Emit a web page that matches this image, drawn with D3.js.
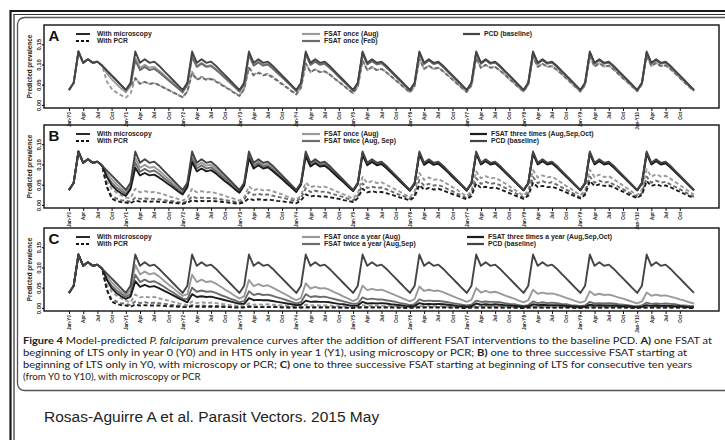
<!DOCTYPE html>
<html>
<head>
<meta charset="utf-8">
<script src="https://cdn.jsdelivr.net/npm/d3@7"></script>
<style>
  body { margin: 0; background: #fff; }
  svg { display: block; font-family: "Liberation Sans", Arial, sans-serif; }
</style>
</head>
<body>
<svg id="fig" width="725" height="440"></svg>
<script>
/**
 * Monthly predicted prevalence, Jan Y0 .. Jan Y11 (133 values per series).
 * One row per year, last value is the closing point.
 */
var pcd = [
  .037,.055,.132,.104,.113,.104,.107,.097,.085,.073,.061,.049,
  .037,.055,.132,.104,.113,.104,.107,.097,.085,.073,.061,.049,
  .037,.055,.132,.104,.113,.104,.107,.097,.085,.073,.061,.049,
  .037,.055,.132,.104,.113,.104,.107,.097,.085,.073,.061,.049,
  .037,.055,.132,.104,.113,.104,.107,.097,.085,.073,.061,.049,
  .037,.055,.132,.104,.113,.104,.107,.097,.085,.073,.061,.049,
  .037,.055,.132,.104,.113,.104,.107,.097,.085,.073,.061,.049,
  .037,.055,.132,.104,.113,.104,.107,.097,.085,.073,.061,.049,
  .037,.055,.132,.104,.113,.104,.107,.097,.085,.073,.061,.049,
  .037,.055,.132,.104,.113,.104,.107,.097,.085,.073,.061,.049,
  .037,.055,.132,.104,.113,.104,.107,.097,.085,.073,.061,.049,
  .037];

// Panel A
var aAugMic = [
  .037,.055,.132,.104,.113,.104,.107,.097,.078,.064,.052,.041,
  .031,.048,.116,.092,.099,.092,.094,.085,.075,.064,.054,.043,
  .033,.051,.121,.096,.104,.096,.098,.089,.078,.067,.056,.045,
  .034,.052,.125,.099,.107,.099,.102,.092,.081,.069,.058,.047,
  .035,.053,.127,.100,.108,.100,.103,.093,.082,.070,.059,.047,
  .036,.053,.128,.101,.110,.101,.104,.094,.082,.071,.059,.048,
  .036,.054,.129,.102,.111,.102,.105,.095,.083,.072,.060,.048,
  .036,.054,.129,.102,.111,.102,.105,.095,.083,.072,.060,.048,
  .036,.054,.129,.102,.111,.102,.105,.095,.083,.072,.060,.048,
  .036,.054,.129,.102,.111,.102,.105,.095,.083,.072,.060,.048,
  .036,.054,.129,.102,.111,.102,.105,.095,.083,.072,.060,.048,
  .036];
var aAugPcr = [
  .037,.055,.132,.104,.113,.104,.107,.097,.058,.040,.031,.024,
  .018,.028,.066,.052,.057,.052,.054,.049,.043,.037,.031,.025,
  .019,.034,.082,.064,.070,.064,.066,.060,.053,.045,.038,.030,
  .023,.040,.095,.075,.081,.075,.077,.070,.061,.053,.044,.035,
  .027,.043,.103,.081,.088,.081,.083,.076,.066,.057,.048,.038,
  .029,.046,.110,.086,.094,.086,.089,.081,.071,.061,.051,.041,
  .031,.047,.114,.089,.097,.089,.092,.083,.073,.063,.052,.042,
  .032,.048,.116,.092,.099,.092,.094,.085,.075,.064,.054,.043,
  .033,.050,.119,.094,.102,.094,.096,.087,.077,.066,.055,.044,
  .033,.050,.120,.095,.103,.095,.097,.088,.077,.066,.056,.045,
  .034,.051,.121,.096,.104,.096,.098,.089,.078,.067,.056,.045,
  .034];
var aFebMic = [
  .037,.055,.132,.104,.113,.104,.107,.097,.085,.073,.061,.049,
  .037,.050,.110,.086,.094,.086,.089,.081,.071,.061,.051,.041,
  .031,.050,.119,.094,.102,.094,.096,.087,.077,.066,.055,.044,
  .033,.051,.123,.097,.105,.097,.100,.090,.079,.068,.057,.046,
  .034,.052,.125,.099,.107,.099,.102,.092,.081,.069,.058,.047,
  .035,.053,.127,.100,.108,.100,.103,.093,.082,.070,.059,.047,
  .036,.053,.128,.101,.110,.101,.104,.094,.082,.071,.059,.048,
  .036,.054,.129,.102,.111,.102,.105,.095,.083,.072,.060,.048,
  .036,.054,.129,.102,.111,.102,.105,.095,.083,.072,.060,.048,
  .036,.054,.129,.102,.111,.102,.105,.095,.083,.072,.060,.048,
  .036,.054,.129,.102,.111,.102,.105,.095,.083,.072,.060,.048,
  .036];
var aFebPcr = [
  .037,.055,.132,.104,.113,.104,.107,.097,.085,.073,.061,.049,
  .037,.045,.066,.052,.057,.052,.054,.049,.043,.037,.031,.025,
  .019,.033,.079,.062,.068,.062,.064,.058,.051,.044,.037,.029,
  .022,.039,.092,.073,.079,.073,.075,.068,.060,.051,.043,.034,
  .026,.043,.103,.081,.088,.081,.083,.076,.066,.057,.048,.038,
  .029,.046,.110,.086,.094,.086,.089,.081,.071,.061,.051,.041,
  .031,.047,.114,.089,.097,.089,.092,.083,.073,.063,.052,.042,
  .032,.048,.116,.092,.099,.092,.094,.085,.075,.064,.054,.043,
  .033,.050,.119,.094,.102,.094,.096,.087,.077,.066,.055,.044,
  .033,.050,.120,.095,.103,.095,.097,.088,.077,.066,.056,.045,
  .034,.051,.121,.096,.104,.096,.098,.089,.078,.067,.056,.045,
  .034];

// Panel B
var bOnceMic = [
  .037,.055,.132,.104,.113,.104,.107,.097,.078,.064,.052,.041,
  .031,.048,.116,.092,.099,.092,.094,.085,.075,.064,.054,.043,
  .033,.051,.123,.097,.105,.097,.100,.090,.079,.068,.057,.046,
  .034,.052,.125,.099,.107,.099,.102,.092,.081,.069,.058,.047,
  .035,.053,.128,.101,.110,.101,.104,.094,.082,.071,.059,.048,
  .036,.054,.129,.102,.111,.102,.105,.095,.083,.072,.060,.048,
  .036,.054,.129,.102,.111,.102,.105,.095,.083,.072,.060,.048,
  .036,.054,.129,.102,.111,.102,.105,.095,.083,.072,.060,.048,
  .036,.054,.129,.102,.111,.102,.105,.095,.083,.072,.060,.048,
  .036,.054,.129,.102,.111,.102,.105,.095,.083,.072,.060,.048,
  .036,.054,.129,.102,.111,.102,.105,.095,.083,.072,.060,.048,
  .036];
var bTwiceMic = [
  .037,.055,.132,.104,.113,.104,.107,.097,.070,.055,.044,.035,
  .027,.043,.104,.082,.089,.082,.085,.077,.067,.058,.048,.039,
  .029,.048,.115,.090,.098,.090,.093,.084,.074,.064,.053,.043,
  .032,.050,.120,.095,.103,.095,.097,.088,.077,.066,.056,.045,
  .034,.052,.124,.098,.106,.098,.101,.091,.080,.069,.057,.046,
  .035,.053,.127,.100,.108,.100,.103,.093,.082,.070,.059,.047,
  .036,.053,.128,.101,.110,.101,.104,.094,.082,.071,.059,.048,
  .036,.053,.128,.101,.110,.101,.104,.094,.082,.071,.059,.048,
  .036,.053,.128,.101,.110,.101,.104,.094,.082,.071,.059,.048,
  .036,.053,.128,.101,.110,.101,.104,.094,.082,.071,.059,.048,
  .036,.053,.128,.101,.110,.101,.104,.094,.082,.071,.059,.048,
  .036];
var bThreeMic = [
  .037,.055,.132,.104,.113,.104,.107,.097,.070,.049,.037,.029,
  .022,.039,.092,.073,.079,.073,.075,.068,.060,.051,.043,.034,
  .026,.044,.106,.083,.090,.083,.086,.078,.068,.058,.049,.039,
  .030,.048,.115,.090,.098,.090,.093,.084,.074,.064,.053,.043,
  .032,.050,.120,.095,.103,.095,.097,.088,.077,.066,.056,.045,
  .034,.052,.124,.098,.106,.098,.101,.091,.080,.069,.057,.046,
  .035,.052,.125,.099,.107,.099,.102,.092,.081,.069,.058,.047,
  .035,.053,.127,.100,.108,.100,.103,.093,.082,.070,.059,.047,
  .036,.053,.127,.100,.108,.100,.103,.093,.082,.070,.059,.047,
  .036,.053,.127,.100,.108,.100,.103,.093,.082,.070,.059,.047,
  .036,.053,.127,.100,.108,.100,.103,.093,.082,.070,.059,.047,
  .036];
var bOncePcr = [
  .037,.055,.132,.104,.113,.104,.107,.097,.058,.040,.031,.024,
  .018,.017,.040,.031,.034,.031,.032,.029,.026,.022,.018,.015,
  .011,.017,.040,.031,.034,.031,.032,.029,.026,.022,.018,.015,
  .011,.019,.046,.036,.040,.036,.037,.034,.030,.026,.021,.017,
  .013,.023,.055,.044,.047,.044,.045,.041,.036,.031,.026,.021,
  .016,.029,.069,.054,.059,.054,.056,.050,.044,.038,.032,.025,
  .019,.033,.079,.062,.068,.062,.064,.058,.051,.044,.037,.029,
  .022,.035,.083,.066,.071,.066,.067,.061,.054,.046,.038,.031,
  .023,.036,.086,.068,.073,.068,.070,.063,.055,.047,.040,.032,
  .024,.036,.087,.069,.075,.069,.071,.064,.056,.048,.040,.032,
  .024,.037,.088,.070,.076,.070,.072,.065,.057,.049,.041,.033,
  .025];
var bTwicePcr = [
  .037,.055,.132,.104,.113,.104,.107,.097,.045,.022,.016,.012,
  .010,.008,.018,.015,.016,.015,.015,.014,.012,.010,.009,.007,
  .005,.009,.021,.017,.018,.017,.017,.016,.014,.012,.010,.008,
  .006,.013,.032,.025,.027,.025,.026,.023,.020,.018,.015,.012,
  .009,.017,.041,.032,.035,.032,.033,.030,.026,.023,.019,.015,
  .011,.022,.053,.042,.045,.042,.043,.039,.034,.029,.024,.020,
  .015,.025,.061,.048,.052,.048,.049,.045,.039,.034,.028,.023,
  .017,.028,.066,.052,.057,.052,.054,.049,.043,.037,.031,.025,
  .019,.029,.069,.054,.059,.054,.056,.050,.044,.038,.032,.025,
  .019,.029,.070,.055,.060,.055,.057,.051,.045,.039,.032,.026,
  .020,.029,.070,.055,.060,.055,.057,.051,.045,.039,.032,.026,
  .020];
var bThreePcr = [
  .037,.055,.132,.104,.113,.104,.107,.097,.045,.016,.010,.007,
  .006,.004,.011,.008,.009,.008,.009,.008,.007,.006,.005,.004,
  .003,.005,.012,.009,.010,.009,.010,.009,.008,.007,.005,.004,
  .003,.007,.016,.012,.014,.012,.013,.012,.010,.009,.007,.006,
  .004,.011,.026,.021,.023,.021,.021,.019,.017,.015,.012,.010,
  .007,.017,.040,.031,.034,.031,.032,.029,.026,.022,.018,.015,
  .011,.020,.049,.038,.042,.038,.040,.036,.031,.027,.023,.018,
  .014,.022,.053,.042,.045,.042,.043,.039,.034,.029,.024,.020,
  .015,.023,.055,.044,.047,.044,.045,.041,.036,.031,.026,.021,
  .016,.025,.059,.047,.051,.047,.048,.044,.038,.033,.027,.022,
  .017,.025,.059,.047,.051,.047,.048,.044,.038,.033,.027,.022,
  .017];

// Panel C
var cOnceMic = [
  .037,.055,.132,.104,.113,.104,.107,.097,.078,.064,.052,.041,
  .031,.044,.106,.083,.090,.083,.086,.078,.068,.058,.049,.039,
  .030,.034,.082,.064,.070,.064,.066,.060,.053,.045,.038,.030,
  .023,.029,.069,.054,.059,.054,.056,.050,.044,.038,.032,.025,
  .019,.025,.061,.048,.052,.048,.049,.045,.039,.034,.028,.023,
  .017,.023,.055,.044,.047,.044,.045,.041,.036,.031,.026,.021,
  .016,.022,.053,.042,.045,.042,.043,.039,.034,.029,.024,.020,
  .015,.020,.049,.038,.042,.038,.040,.036,.031,.027,.023,.018,
  .014,.019,.045,.035,.038,.035,.036,.033,.029,.025,.021,.017,
  .013,.017,.041,.032,.035,.032,.033,.030,.026,.023,.019,.015,
  .011,.016,.038,.030,.033,.030,.031,.028,.025,.021,.018,.014,
  .011];
var cTwiceMic = [
  .037,.055,.132,.104,.113,.104,.107,.097,.070,.055,.044,.035,
  .027,.034,.082,.064,.070,.064,.066,.060,.053,.045,.038,.030,
  .023,.021,.050,.040,.043,.040,.041,.037,.032,.028,.023,.019,
  .014,.017,.041,.032,.035,.032,.033,.030,.026,.023,.019,.015,
  .011,.014,.034,.027,.029,.027,.028,.025,.022,.019,.016,.013,
  .010,.011,.026,.021,.023,.021,.021,.019,.017,.015,.012,.010,
  .007,.009,.021,.017,.018,.017,.017,.016,.014,.012,.010,.008,
  .006,.008,.018,.015,.016,.015,.015,.014,.012,.010,.009,.007,
  .005,.007,.016,.012,.014,.012,.013,.012,.010,.009,.007,.006,
  .004,.006,.015,.011,.012,.011,.012,.011,.009,.008,.007,.005,
  .004,.006,.013,.010,.011,.010,.011,.010,.009,.007,.006,.005,
  .004];
var cThreeMic = [
  .037,.055,.132,.104,.113,.104,.107,.097,.070,.049,.037,.029,
  .022,.028,.066,.052,.057,.052,.054,.049,.043,.037,.031,.025,
  .019,.014,.034,.027,.029,.027,.028,.025,.022,.019,.016,.013,
  .010,.010,.024,.019,.020,.019,.019,.017,.015,.013,.011,.009,
  .007,.008,.018,.015,.016,.015,.015,.014,.012,.010,.009,.007,
  .005,.006,.015,.011,.012,.011,.012,.011,.009,.008,.007,.005,
  .004,.005,.012,.009,.010,.009,.010,.009,.008,.007,.005,.004,
  .003,.004,.011,.008,.009,.008,.009,.008,.007,.006,.005,.004,
  .003,.004,.009,.007,.008,.007,.007,.007,.006,.005,.004,.003,
  .003,.003,.008,.006,.007,.006,.006,.006,.005,.004,.004,.003,
  .002,.003,.007,.005,.006,.005,.005,.005,.004,.004,.003,.002,
  .002];
var cOncePcr = [
  .037,.055,.132,.104,.113,.104,.107,.097,.058,.040,.031,.024,
  .018,.014,.033,.026,.028,.026,.027,.024,.021,.018,.015,.012,
  .009,.007,.016,.012,.014,.012,.013,.012,.010,.009,.007,.006,
  .004,.004,.011,.008,.009,.008,.009,.008,.007,.006,.005,.004,
  .003,.003,.008,.006,.007,.006,.006,.006,.005,.004,.004,.003,
  .002,.003,.007,.005,.006,.005,.005,.005,.004,.004,.003,.002,
  .002,.002,.005,.004,.005,.004,.004,.004,.003,.003,.002,.002,
  .001,.002,.005,.004,.005,.004,.004,.004,.003,.003,.002,.002,
  .001,.002,.004,.003,.003,.003,.003,.003,.003,.002,.002,.001,
  .001,.002,.004,.003,.003,.003,.003,.003,.003,.002,.002,.001,
  .001,.002,.004,.003,.003,.003,.003,.003,.003,.002,.002,.001,
  .001];
var cTwicePcr = [
  .037,.055,.132,.104,.113,.104,.107,.097,.045,.022,.016,.012,
  .010,.007,.016,.012,.014,.012,.013,.012,.010,.009,.007,.006,
  .004,.003,.007,.005,.006,.005,.005,.005,.004,.004,.003,.002,
  .002,.002,.004,.003,.003,.003,.003,.003,.003,.002,.002,.001,
  .001,.001,.003,.002,.002,.002,.002,.002,.002,.001,.001,.001,
  .001,.001,.003,.002,.002,.002,.002,.002,.002,.001,.001,.001,
  .001,.001,.003,.002,.002,.002,.002,.002,.002,.001,.001,.001,
  .001,.001,.001,.001,.001,.001,.001,.001,.001,.001,.001,.000,
  .000,.001,.001,.001,.001,.001,.001,.001,.001,.001,.001,.000,
  .000,.001,.001,.001,.001,.001,.001,.001,.001,.001,.001,.000,
  .000,.001,.001,.001,.001,.001,.001,.001,.001,.001,.001,.000,
  .000];
var cThreePcr = [
  .037,.055,.132,.104,.113,.104,.107,.097,.045,.016,.010,.007,
  .006,.003,.008,.006,.007,.006,.006,.006,.005,.004,.004,.003,
  .002,.002,.004,.003,.003,.003,.003,.003,.003,.002,.002,.001,
  .001,.001,.003,.002,.002,.002,.002,.002,.002,.001,.001,.001,
  .001,.001,.001,.001,.001,.001,.001,.001,.001,.001,.001,.000,
  .000,.001,.001,.001,.001,.001,.001,.001,.001,.001,.001,.000,
  .000,.001,.001,.001,.001,.001,.001,.001,.001,.001,.001,.000,
  .000,.001,.001,.001,.001,.001,.001,.001,.001,.001,.001,.000,
  .000,.001,.001,.001,.001,.001,.001,.001,.001,.001,.001,.000,
  .000,.001,.001,.001,.001,.001,.001,.001,.001,.001,.001,.000,
  .000,.001,.001,.001,.001,.001,.001,.001,.001,.001,.001,.000,
  .000];

/**
 * Axis labels
 */
var quarterTicks = d3.range(0, 130, 3);          // months with a tick
var quarterNames = ["Jan", "Apr", "Jul", "Oct"];
var yearNames = ["Y0","Y1","Y2","Y3","Y4","Y5","Y6","Y7","Y8","Y9","Y10"];
var yTicks = [0, 0.05, 0.10, 0.15];

var captionLines = [
  [["Figure 4", "b"], [" Model-predicted "], ["P. falciparum", "i"], [" prevalence curves after the addition of different FSAT interventions to the baseline PCD. "], ["A)", "b"], [" one FSAT at"]],
  [["beginning of LTS only in year 0 (Y0) and in HTS only in year 1 (Y1), using microscopy or PCR; "], ["B)", "b"], [" one to three successive FSAT starting at"]],
  [["beginning of LTS only in Y0, with microscopy or PCR; "], ["C)", "b"], [" one to three successive FSAT starting at beginning of LTS for consecutive ten years"]],
  [["(from Y0 to Y10), with microscopy or PCR"]]
];
var captionWidths = [689, 664, 669, null];   // justified lines of the printed caption
var sourceLine = "Rosas-Aguirre A et al. Parasit Vectors. 2015 May";

// grey levels of the printed figure
var cOnce = "#9a9a9a", cTwice = "#6c6c6c", cThree = "#1c1c1c", cBase = "#444";

var panels = [
  { letter: "A", top: 25,
    series: [
      { v: aAugPcr, c: cOnce, dash: true }, { v: aFebPcr, c: cTwice, dash: true },
      { v: aAugMic, c: cOnce }, { v: aFebMic, c: cTwice }, { v: pcd, c: cBase } ],
    mid: [["FSAT once (Aug)", cOnce], ["FSAT once (Feb)", cTwice]],
    right: [["PCD (baseline)", cBase]], rightX: 463 },
  { letter: "B", top: 125,
    series: [
      { v: bOncePcr, c: cOnce, dash: true }, { v: bTwicePcr, c: cTwice, dash: true }, { v: bThreePcr, c: cThree, dash: true },
      { v: bOnceMic, c: cOnce }, { v: bTwiceMic, c: cTwice }, { v: bThreeMic, c: cThree }, { v: pcd, c: cBase } ],
    mid: [["FSAT once (Aug)", cOnce], ["FSAT twice (Aug, Sep)", cTwice]],
    right: [["FSAT three times (Aug,Sep,Oct)", cThree], ["PCD (baseline)", cBase]], rightX: 470 },
  { letter: "C", top: 228,
    series: [
      { v: cOncePcr, c: cOnce, dash: true }, { v: cTwicePcr, c: cTwice, dash: true }, { v: cThreePcr, c: cThree, dash: true },
      { v: cOnceMic, c: cOnce }, { v: cTwiceMic, c: cTwice }, { v: cThreeMic, c: cThree }, { v: pcd, c: cBase } ],
    mid: [["FSAT once a year (Aug)", cOnce], ["FSAT twice a year (Aug,Sep)", cTwice]],
    right: [["FSAT three times a year (Aug,Sep,Oct)", cThree], ["PCD (baseline)", cBase]], rightX: 467 }
];

var svg = d3.select("#fig");
svg.append("rect").attr("width", 725).attr("height", 440).attr("fill", "#fff");

// outer double frame and the rounded figure box
svg.append("path").attr("d", "M725,11H10.5V440").attr("fill", "none")
  .attr("stroke", "#1a1a1a").attr("stroke-width", 2.2);
svg.append("path").attr("d", "M725,14.5H14V440").attr("fill", "none")
  .attr("stroke", "#333").attr("stroke-width", 1.2);
svg.append("rect").attr("x", 17.5).attr("y", 17.5).attr("width", 740).attr("height", 373)
  .attr("rx", 7).attr("fill", "none").attr("stroke", "#555").attr("stroke-width", 1.3);

var plotL = 44, plotR = 719, plotH = 83;
var x = d3.scaleLinear().domain([-5.28, 137.28]).range([plotL, plotR]);

panels.forEach(function(p) {
  var bottom = p.top + plotH;
  var y = d3.scaleLinear().domain([-0.0076, 0.1976]).range([bottom, p.top]);
  var g = svg.append("g");

  var line = d3.line()
    .x(function(d, i) { return x(i); })
    .y(function(d) { return y(d); });

  p.series.forEach(function(s) {
    g.append("path")
      .datum(s.v)
      .attr("d", line)
      .attr("fill", "none")
      .attr("stroke", s.c)
      .attr("stroke-width", 1.9)
      .attr("stroke-linejoin", "round")
      .attr("stroke-dasharray", s.dash ? "4,2.5" : null);
  });

  g.append("rect").attr("x", plotL).attr("y", p.top)
    .attr("width", plotR - plotL).attr("height", plotH)
    .attr("fill", "none").attr("stroke", "#111").attr("stroke-width", 1.4);

  // y axis, labels parallel to the axis
  var ya = g.append("g").attr("transform", "translate(" + plotL + ",0)")
    .call(d3.axisLeft(y).tickValues(yTicks).tickSize(2).tickFormat(d3.format(".2f")));
  ya.select(".domain").remove();
  ya.selectAll("text")
    .attr("transform", "rotate(-90)")
    .attr("x", 0).attr("y", -3.5).attr("dy", 0)
    .attr("text-anchor", "middle")
    .style("font-size", "6px").style("font-weight", "bold")
    .style("font-family", "'Liberation Sans', Arial, sans-serif").attr("fill", "#222");

  g.append("text")
    .attr("transform", "translate(32," + (p.top + plotH / 2) + ") rotate(-90)")
    .attr("text-anchor", "middle")
    .style("font-size", "6.3px").style("font-weight", "bold").attr("fill", "#222")
    .text("Predicted prevalence");

  // x axis, quarterly ticks with rotated labels
  var xa = g.append("g").attr("transform", "translate(0," + bottom + ")")
    .call(d3.axisBottom(x).tickValues(quarterTicks).tickSize(3)
      .tickFormat(function(m) {
        var q = quarterNames[(m % 12) / 3];
        return m % 12 === 0 ? q + "-" + yearNames[m / 12] : q;
      }));
  xa.select(".domain").remove();
  xa.selectAll("line").attr("stroke", "#111").attr("stroke-width", 1);
  xa.selectAll("text")
    .attr("transform", "rotate(-90)")
    .attr("x", -4).attr("y", 0).attr("dy", "0.35em")
    .attr("text-anchor", "end")
    .style("font-size", "4.6px").style("font-weight", "bold")
    .style("font-family", "'Liberation Sans', Arial, sans-serif").attr("fill", "#222");

  // panel letter
  g.append("text").attr("x", 48.5).attr("y", p.top + 16)
    .style("font-size", "15px").style("font-weight", "bold").attr("fill", "#111")
    .text(p.letter);

  // legends
  var rows = [p.top + 9, p.top + 16];
  var left = [["With microscopy", false], ["With PCR", true]];
  left.forEach(function(d, i) {
    g.append("line").attr("x1", 76).attr("x2", 90).attr("y1", rows[i]).attr("y2", rows[i])
      .attr("stroke", "#111").attr("stroke-width", 1.8)
      .attr("stroke-dasharray", d[1] ? "3,2" : null);
    g.append("text").attr("x", 97).attr("y", rows[i] + 2.3)
      .style("font-size", "6.8px").style("font-weight", "bold").attr("fill", "#222").text(d[0]);
  });
  p.mid.forEach(function(d, i) {
    g.append("line").attr("x1", 302).attr("x2", 320).attr("y1", rows[i]).attr("y2", rows[i])
      .attr("stroke", d[1]).attr("stroke-width", 2.2);
    g.append("text").attr("x", 324).attr("y", rows[i] + 2.3)
      .style("font-size", "6.8px").style("font-weight", "bold").attr("fill", "#222").text(d[0]);
  });
  p.right.forEach(function(d, i) {
    g.append("line").attr("x1", p.rightX).attr("x2", p.rightX + 17).attr("y1", rows[i]).attr("y2", rows[i])
      .attr("stroke", d[1]).attr("stroke-width", 2.2);
    g.append("text").attr("x", p.rightX + 21).attr("y", rows[i] + 2.3)
      .style("font-size", "6.8px").style("font-weight", "bold").attr("fill", "#222").text(d[0]);
  });
});

// caption
var cap = svg.append("g").style("font-family", "Lato, 'Open Sans', sans-serif")
  .style("font-size", "9.8px").attr("fill", "#222");
captionLines.forEach(function(parts, i) {
  var t = cap.append("text").attr("x", 23).attr("y", 344 + i * 12);
  if (captionWidths[i]) {
    t.attr("textLength", captionWidths[i]).attr("lengthAdjust", "spacingAndGlyphs");
  }
  parts.forEach(function(part) {
    t.append("tspan")
      .style("font-weight", part[1] === "b" ? "bold" : null)
      .style("font-style", part[1] === "i" ? "italic" : null)
      .text(part[0]);
  });
});

svg.append("text").attr("x", 44).attr("y", 422)
  .style("font-family", "'Liberation Sans', Arial, sans-serif")
  .style("font-size", "15.5px").attr("fill", "#222")
  .text(sourceLine);
</script>
</body>
</html>
